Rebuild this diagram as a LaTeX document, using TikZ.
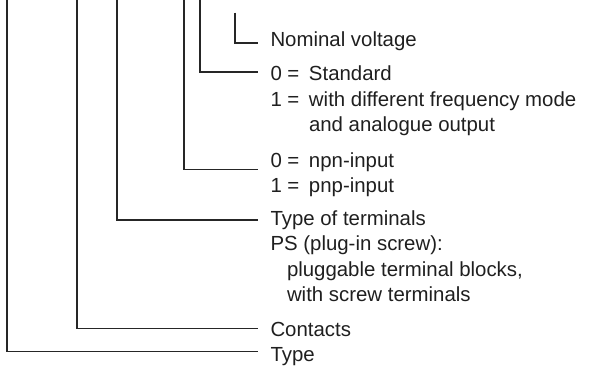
\documentclass[tikz,border=0pt]{standalone}
\usepackage{fontspec}
\setmainfont{Liberation Sans}
\newcommand{\codecol}[1]{\makebox[38.5pt][l]{#1}}
\newcommand{\subindent}{\hspace*{38.5pt}}
\begin{document}
\begin{tikzpicture}[x=1pt,y=-1pt,
  lead/.style={draw=black!85, line width=1.1pt},
  lbl/.style={anchor=base west, inner sep=0pt, outer sep=0pt, text=black!88,
    align=left, font=\fontsize{20.4}{25.3}\selectfont}]
\useasboundingbox (0,0) rectangle (592,371);

% key texts, one per field of the type code
% (a multi-line node sits on the baseline of its last line)
\node[lbl] (volt)  at (270.5,46.7)  {Nominal voltage};
\node[lbl] (mode)  at (270.5,131.6) {\codecol{0 =}Standard\\
                                     \codecol{1 =}with different frequency mode\\
                                     \subindent and analogue output};
\node[lbl] (input) at (270.5,192.8) {\codecol{0 =}npn-input\\
                                     \codecol{1 =}pnp-input};
\node[lbl] (term)  at (270.5,301.4) {Type of terminals\\
                                     PS (plug-in screw):\\
                                     \hspace*{16.5pt}pluggable terminal blocks,\\
                                     \hspace*{16.5pt}with screw terminals};
\node[lbl] (cont)  at (270.5,337)   {Contacts};
\node[lbl] (type)  at (270.5,362)   {Type};

% upper ends of the leader lines
\coordinate (typeTop)  at (7,0);
\coordinate (contTop)  at (77,0);
\coordinate (termTop)  at (117,0);
\coordinate (inputTop) at (184,0);
\coordinate (modeTop)  at (200,0);
\coordinate (voltTop)  at (235,12.7);

% right ends, just short of each text
\coordinate (typeEnd)  at (258,351.7);
\coordinate (contEnd)  at (258,328.5);
\coordinate (termEnd)  at (258,220);
\coordinate (inputEnd) at (258,169.5);
\coordinate (modeEnd)  at (258,72);
\coordinate (voltEnd)  at (258,43);

% leader lines
\draw[lead] (typeTop)  |- (typeEnd);
\draw[lead] (contTop)  |- (contEnd);
\draw[lead] (termTop)  |- (termEnd);
\draw[lead] (inputTop) |- (inputEnd);
\draw[lead] (modeTop)  |- (modeEnd);
\draw[lead] (voltTop)  |- (voltEnd);
\end{tikzpicture}
\end{document}
